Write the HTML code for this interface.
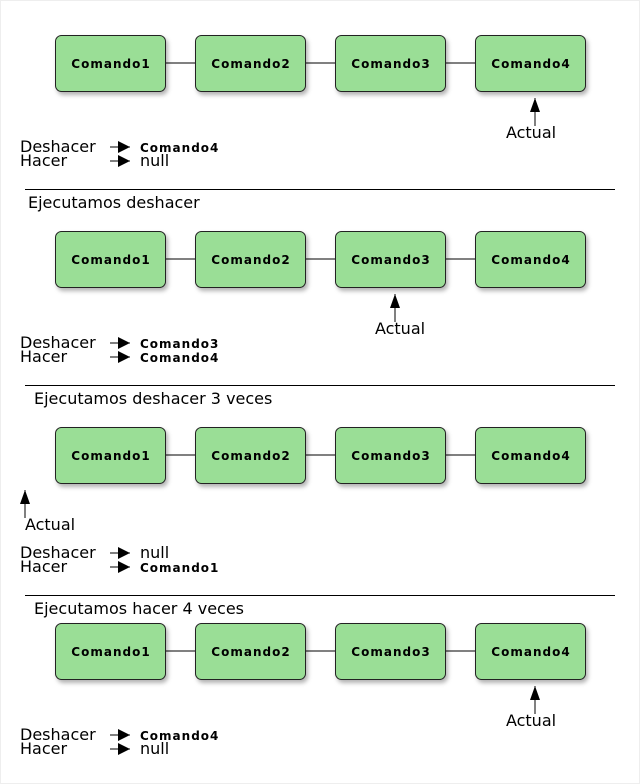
<!DOCTYPE html>
<html><head><style>
body{margin:0;background:#fff}
svg{display:block}
text{font-family:"DejaVu Sans","Liberation Sans",sans-serif;fill:#000}
.b{font-weight:bold;font-size:12px;letter-spacing:1px}
.t{font-size:16px}
.v{font-size:12px;font-weight:bold;letter-spacing:1px}
</style></head><body>
<svg width="640" height="784" viewBox="0 0 640 784">
<defs>
<filter id="sh" x="-10%" y="-10%" width="130%" height="140%"><feDropShadow dx="2" dy="3" stdDeviation="2" flood-color="#000" flood-opacity="0.3"/></filter>
<g id="row">
<line x1="165" y1="28" x2="475" y2="28" stroke="#000" stroke-width="1"/>
<g fill="#9ade96" stroke="#222" stroke-width="1" filter="url(#sh)">
<rect x="55.5" y="0.5" width="110" height="56" rx="6"/>
<rect x="195.5" y="0.5" width="110" height="56" rx="6"/>
<rect x="335.5" y="0.5" width="110" height="56" rx="6"/>
<rect x="475.5" y="0.5" width="110" height="56" rx="6"/>
</g>
<text class="b" x="111" y="33" text-anchor="middle">Comando1</text>
<text class="b" x="251" y="33" text-anchor="middle">Comando2</text>
<text class="b" x="391" y="33" text-anchor="middle">Comando3</text>
<text class="b" x="531" y="33" text-anchor="middle">Comando4</text>
</g>
<g id="arr"><line x1="0" y1="0" x2="0" y2="28" stroke="#000"/><polygon points="0,0 -5,14 5,14" fill="#000"/></g>
<g id="harr"><line x1="0" y1="0" x2="20" y2="0" stroke="#000"/><polygon points="20,0 8,-6 8,6" fill="#000"/></g>
</defs>
<rect x="0.5" y="0.5" width="639" height="783" fill="#fff" stroke="#eee"/>

<use href="#row" y="35"/>
<use href="#arr" x="535" y="98"/>
<text class="t" x="531" y="138" text-anchor="middle">Actual</text>
<text class="t" x="20" y="152">Deshacer</text><text class="t" x="20" y="166">Hacer</text>
<use href="#harr" x="110" y="147"/><use href="#harr" x="110" y="161"/>
<text class="v" x="140" y="152">Comando4</text><text class="t" x="140" y="166">null</text>

<line x1="25" y1="189.5" x2="615" y2="189.5" stroke="#000"/>
<text class="t" x="28" y="208">Ejecutamos deshacer</text>
<use href="#row" y="231"/>
<use href="#arr" x="395" y="294"/>
<text class="t" x="400" y="334" text-anchor="middle">Actual</text>
<text class="t" x="20" y="348">Deshacer</text><text class="t" x="20" y="362">Hacer</text>
<use href="#harr" x="110" y="343"/><use href="#harr" x="110" y="357"/>
<text class="v" x="140" y="348">Comando3</text><text class="v" x="140" y="362">Comando4</text>

<line x1="25" y1="385.5" x2="615" y2="385.5" stroke="#000"/>
<text class="t" x="34" y="404">Ejecutamos deshacer 3 veces</text>
<use href="#row" y="427"/>
<use href="#arr" x="25" y="490"/>
<text class="t" x="50" y="530" text-anchor="middle">Actual</text>
<text class="t" x="20" y="558">Deshacer</text><text class="t" x="20" y="572">Hacer</text>
<use href="#harr" x="110" y="553"/><use href="#harr" x="110" y="567"/>
<text class="t" x="140" y="558">null</text><text class="v" x="140" y="572">Comando1</text>

<line x1="25" y1="595.5" x2="615" y2="595.5" stroke="#000"/>
<text class="t" x="34" y="614">Ejecutamos hacer 4 veces</text>
<use href="#row" y="623"/>
<use href="#arr" x="535" y="686"/>
<text class="t" x="531" y="726" text-anchor="middle">Actual</text>
<text class="t" x="20" y="740">Deshacer</text><text class="t" x="20" y="754">Hacer</text>
<use href="#harr" x="110" y="735"/><use href="#harr" x="110" y="749"/>
<text class="v" x="140" y="740">Comando4</text><text class="t" x="140" y="754">null</text>
</svg>
</body></html>
